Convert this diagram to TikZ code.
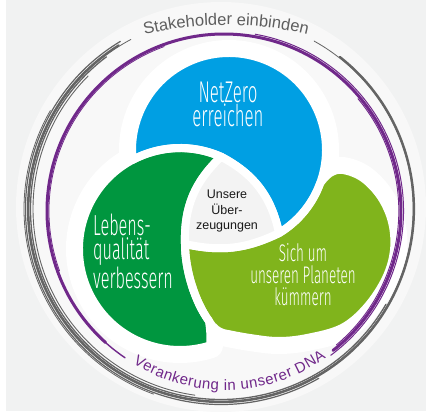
\documentclass[tikz,border=0pt]{standalone}
\usepackage{fontspec}
\usepackage{tikz}
\usetikzlibrary{decorations.text}

\newfontfamily\labelfont{Liberation Sans}
\newfontfamily\handfont{Fira Sans Light}[FakeStretch=0.56]

\definecolor{bggray}{HTML}{F1F2F2}
\definecolor{discgray}{HTML}{F8F8F8}
\definecolor{coregray}{HTML}{F3F3F3}
\definecolor{netblue}{HTML}{009FE3}
\definecolor{lifegreen}{HTML}{00963F}
\definecolor{planetlime}{HTML}{80B41C}
\definecolor{dnapurple}{HTML}{70288A}
\definecolor{ringgray}{HTML}{646464}
\definecolor{labelgray}{HTML}{5E5E5E}

\tikzset{
    %Define style for the white halo round the shapes
    halo/.style={draw=white, fill=white, line width=26pt, line join=round},
    %Define style for the white gaps between the shapes
    cut/.style={draw=white, line width=8pt, line join=round},
    % Define style for handwritten labels
    hand/.style={text=white, align=center, inner sep=0pt},
    % Define style for the core label
    core/.style={
           text=black!90,
           align=center,
           inner sep=0pt,
           font=\labelfont\fontsize{12.5}{15.5}\selectfont},
    % Define style for brush strokes
    brush/.style={line cap=round, line width=#1}
}

% Outlines of the four cells
\newcommand{\bluecell}{(ptA) to[bend left=25] (ptB)
    arc[start angle=-58.93, end angle=185.9, radius=97pt]
    arc[start angle=118.06, end angle=66, radius=101pt] -- cycle}
\newcommand{\greencell}{(ptA)
    arc[start angle=66, end angle=287.3, radius=101pt]
    .. controls (211,-336) and (210,-328) .. (ptS)
    .. controls (195,-302) and (185,-270) .. (ptC)
    to[bend left=24] (ptA) -- cycle}
\newcommand{\limecell}{(ptC)
    .. controls (185,-270) and (195,-302) .. (ptS)
    .. controls (213,-328) and (219,-333) .. (228,-334)
    -- plot[smooth, tension=0.6] coordinates {(228,-334) (250,-338) (278,-341)
       (307,-338) (342,-328) (367,-307) (386,-278) (394,-250) (392,-222)
       (381,-197) (363,-178) (343,-170) (330,-173) (320.15,-183.18)}
    arc[start angle=-20, end angle=-58.93, radius=97pt]
    to[bend left=19] (ptC) -- cycle}
\newcommand{\corecell}{(ptA) to[bend left=25] (ptB) to[bend left=19] (ptC)
    to[bend left=24] (ptA) -- cycle}

\begin{document}
\begin{tikzpicture}[x=1pt, y=1pt]
      \useasboundingbox (0,0) rectangle (426,-412);
      \fill[white] (0,0) rectangle (426,-412);
      \fill[bggray] (6,0) rectangle (426,-411);
      \fill[discgray] (221,-207) circle[radius=205pt];

      \coordinate (cb) at (229,-150);
      \coordinate (cg) at (180,-249);
      \coordinate (ptA) at ([shift={(66:101pt)}]cg);
      \coordinate (ptB) at ([shift={(-58.93:97pt)}]cb);
      \coordinate (ptC) at (185,-244);
      \coordinate (ptS) at (209,-321);

      \path[halo] \bluecell;
      \path[halo] \greencell;
      \path[halo] \limecell;

      \fill[netblue] \bluecell;
      \fill[lifegreen] \greencell;
      \fill[planetlime] \limecell;
      \path[cut] \bluecell;
      \path[cut] \greencell;
      \path[cut] \limecell;
      \path[cut, fill=coregray] \corecell;

      % rings
      \coordinate (pc) at (224,-211);
      \foreach \rad/\sa/\ea/\lw in {177/228/-52/3.0, 177/236/226/1.4,
          179.5/80/-53.5/1.0, 174.8/40/-50/0.9, 175/200/110/0.8}
        \draw[dnapurple, brush=\lw pt] ([shift={(\sa:\rad pt)}]pc)
          arc[start angle=\sa, end angle=\ea, radius=\rad pt];
      \coordinate (gc) at (221,-209);
      \foreach \rad/\sa/\ea/\lw in {193/122/412/2.2, 192/118/421/0.8,
          190.5/127/330/1.3, 195.5/121/300/1.2, 188/135/262/0.9, 197/150/250/0.8}
        \draw[ringgray, brush=\lw pt] ([shift={(\sa:\rad pt)}]gc)
          arc[start angle=\sa, end angle=\ea, radius=\rad pt];

      \coordinate (stakectr) at (226,-375);
      \path[decorate, decoration={text along path, text align=center,
          text color=labelgray,
          text={|\labelfont\fontsize{16.5}{16.5}\selectfont|Stakeholder einbinden}}]
        ([shift={(125:350pt)}]stakectr) arc[start angle=125, end angle=55, radius=350pt];
      \coordinate (dnactr) at (225,-216);
      \path[decorate, decoration={text along path, text align=fit to path,
          text color=dnapurple,
          text={|\labelfont\fontsize{15}{15}\selectfont|Verankerung in unserer DNA}}]
        ([shift={(238:174pt)}]dnactr) arc[start angle=238, end angle=305.5, radius=174pt];

      \node[hand, font=\handfont\fontsize{30}{24}\selectfont] (netzero) at (228,-104.5)
        {NetZero\\erreichen};
      \node[hand, align=left, anchor=north west,
        font=\handfont\fontsize{29}{24}\selectfont] (leben) at (93,-214)
        {Lebens-\\qualität\\verbessern};
      \node[hand, anchor=north, font=\handfont\fontsize{24}{22}\selectfont] (planet)
        at (303,-243) {Sich um\\unseren Planeten\\kümmern};
      \node[core] (belief) at (227,-211) {Unsere\\Über-\\zeugungen};
  \end{tikzpicture}
\end{document}
